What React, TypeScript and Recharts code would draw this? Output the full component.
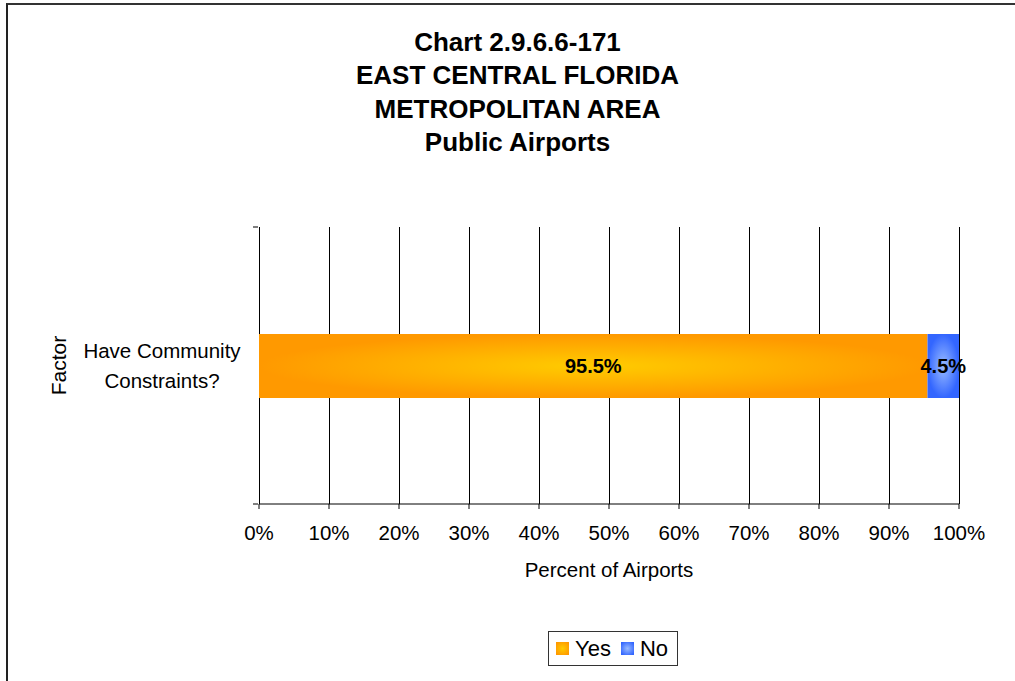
import { BarChart, Bar, XAxis, YAxis, CartesianGrid, Legend, LabelList } from 'recharts';

const categories = ['Have Community Constraints?'];
const yesValues = [95.5];
const noValues = [4.5];
const xTicks = [0, 10, 20, 30, 40, 50, 60, 70, 80, 90, 100];
const titleLines = ['Chart 2.9.6.6-171', 'EAST CENTRAL FLORIDA', 'METROPOLITAN AREA', 'Public Airports'];

const data = categories.map((c, i) => ({ factor: c, yes: yesValues[i], no: noValues[i], band: 0 }));

const font = '"Liberation Sans", Arial, sans-serif';

function CategoryTick({ x, y, payload }: any) {
  const words = String(payload.value).split(' ');
  const lines = [words.slice(0, 2).join(' '), words.slice(2).join(' ')];
  return (
    <text x={x - 89} y={y} textAnchor="middle" fontSize={20.5} fill="#000" fontFamily={font}>
      <tspan x={x - 89} dy={-8}>{lines[0]}</tspan>
      <tspan x={x - 89} dy={30}>{lines[1]}</tspan>
    </text>
  );
}

function FactorLabel({ viewBox }: any) {
  const cx = viewBox.x + 58;
  const cy = viewBox.y + viewBox.height / 2;
  return (
    <text x={cx} y={cy} transform={`rotate(-90 ${cx} ${cy})`} textAnchor="middle" dominantBaseline="central" fontSize={21} fill="#000" fontFamily={font}>
      Factor
    </text>
  );
}

function LegendBox() {
  const item = (id: string, label: string, gap: number) => (
    <span style={{ display: 'inline-flex', alignItems: 'center', marginRight: gap }}>
      <svg width={13} height={13} style={{ marginRight: 6 }}>
        <rect x={0} y={0} width={13} height={13} fill={`url(#${id})`} />
      </svg>
      {label}
    </span>
  );
  return (
    <div style={{ display: 'inline-flex', border: '1px solid #333', padding: '4px 7px', fontSize: 22, lineHeight: '25px', fontFamily: font, background: '#fff' }}>
      {item('gYesL', 'Yes', 10)}
      {item('gNoL', 'No', 2)}
    </div>
  );
}

export default function App() {
  return (
    <div style={{ position: 'absolute', left: 0, top: 0, width: 1015, height: 681, overflow: 'hidden', background: '#fff', fontFamily: font }}>
      <div style={{ position: 'absolute', left: 6, top: 3, width: 1100, height: 800, borderLeft: '2px solid #222', borderTop: '2px solid #333', boxSizing: 'border-box' }} />
      <div style={{ position: 'absolute', left: 0, top: 26, width: 1035, textAlign: 'center', fontWeight: 'bold', fontSize: 26, lineHeight: '33.3px', color: '#000' }}>
        {titleLines.map((t) => (
          <div key={t}>{t}</div>
        ))}
      </div>
      <div style={{ position: 'absolute', left: 0, top: 0 }}>
        <BarChart width={1015} height={681} data={data} layout="vertical" margin={{ top: 227, right: 56, bottom: 112, left: 0 }} barSize={64}>
          <defs>
            <radialGradient id="gYes" cx="0.5" cy="0.5" r="0.5">
              <stop offset="0%" stopColor="#FFCC00" />
              <stop offset="100%" stopColor="#FF9900" />
            </radialGradient>
            <radialGradient id="gNo" cx="0.5" cy="0.5" r="0.5">
              <stop offset="0%" stopColor="#99BBFF" />
              <stop offset="100%" stopColor="#3366FF" />
            </radialGradient>
          </defs>
          <CartesianGrid horizontal={false} vertical stroke="#000" strokeWidth={1} shapeRendering="crispEdges" />
          <XAxis
            type="number"
            domain={[0, 100]}
            ticks={xTicks}
            tickFormatter={(v) => `${v}%`}
            height={30}
            axisLine={{ stroke: '#000' }}
            tickLine={{ stroke: '#000' }}
            tickSize={5}
            tickMargin={16}
            tick={{ fill: '#000', fontSize: 20.5, fontFamily: font }}
            label={{ value: 'Percent of Airports', position: 'insideBottom', offset: -43, fill: '#000', fontSize: 20.5, fontFamily: font }}
          />
          <YAxis
            yAxisId="edge"
            type="number"
            dataKey="band"
            domain={[0, 1]}
            ticks={[0, 1]}
            width={258}
            axisLine={false}
            tickLine={{ stroke: '#000' }}
            tickSize={5}
            tickFormatter={() => ''}
            label={<FactorLabel />}
          />
          <YAxis
            type="category"
            dataKey="factor"
            width={1}
            axisLine={false}
            tickLine={false}
            tick={<CategoryTick />}
          />
          <Legend verticalAlign="bottom" wrapperStyle={{ bottom: 15, left: 548, width: 140 }} content={() => <LegendBox />} />
          <Bar dataKey="yes" name="Yes" stackId="a" fill="url(#gYes)" isAnimationActive={false}>
            <LabelList dataKey="yes" position="center" formatter={(v: any) => `${v}%`} fill="#000" fontWeight="bold" fontSize={20} fontFamily={font} />
          </Bar>
          <Bar dataKey="no" name="No" stackId="a" fill="url(#gNo)" isAnimationActive={false}>
            <LabelList dataKey="no" position="center" formatter={(v: any) => `${v}%`} fill="#000" fontWeight="bold" fontSize={20} fontFamily={font} />
          </Bar>
        </BarChart>
      </div>
      <svg width={0} height={0} style={{ position: 'absolute' }}>
        <defs>
          <radialGradient id="gYesL" cx="0.5" cy="0.5" r="0.6">
            <stop offset="0%" stopColor="#FFCC00" />
            <stop offset="100%" stopColor="#FF9900" />
          </radialGradient>
          <radialGradient id="gNoL" cx="0.5" cy="0.5" r="0.6">
            <stop offset="0%" stopColor="#99BBFF" />
            <stop offset="100%" stopColor="#3366FF" />
          </radialGradient>
        </defs>
      </svg>
    </div>
  );
}
